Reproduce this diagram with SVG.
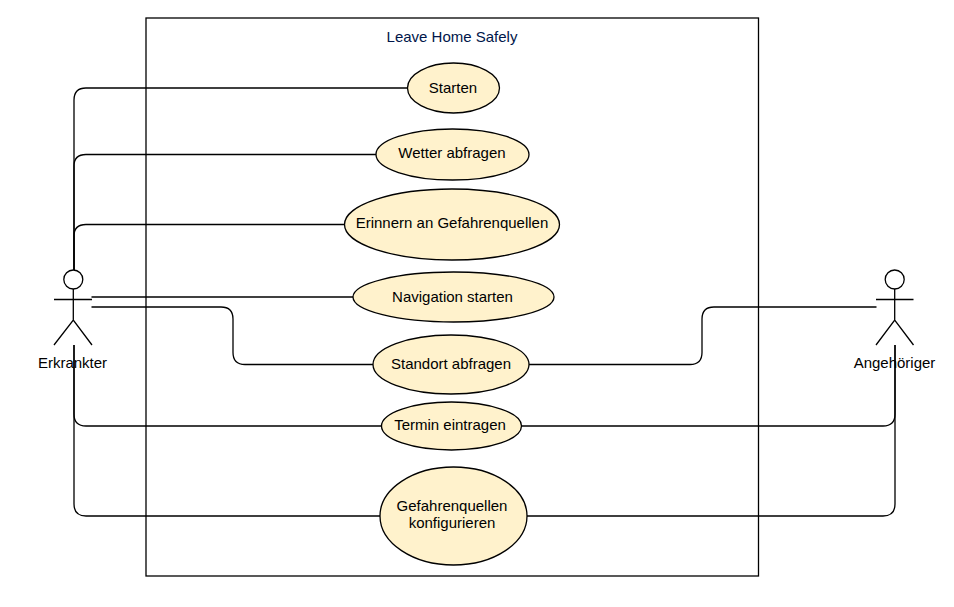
<svg xmlns="http://www.w3.org/2000/svg" width="954" height="607" viewBox="0 0 954 607">
<style>
.l{fill:none;stroke:#000;stroke-width:1.3}
.u{fill:#fff2cc;stroke:#000;stroke-width:1.3}
text{font-family:"Liberation Sans",Arial,sans-serif;font-size:15px;text-anchor:middle;fill:#000}
</style>
<rect width="954" height="607" fill="#fff"/>
<g id="system"><rect x="146" y="18" width="612.500" height="558" fill="#fff" stroke="#000" stroke-width="1.3"/><text x="452" y="42" style="fill:#00164a">Leave Home Safely</text></g>
<g id="connectors">
<path class="l" d="M74 270V100Q74 88 86 88H408"/>
<path class="l" d="M74 270V166Q74 154.500 86 154.500H376"/>
<path class="l" d="M74 270V236Q74 224.500 86 224.500H345"/>
<path class="l" d="M91.500 297H353"/>
<path class="l" d="M91.500 307H221Q233 307 233 319V352.500Q233 364.500 245 364.500H373"/>
<path class="l" d="M74 345V414Q74 426 86 426H382"/>
<path class="l" d="M74 345V504Q74 516 86 516H380"/>
<path class="l" d="M529 364.500H690Q702 364.500 702 352.500V319Q702 307 714 307H876.500"/>
<path class="l" d="M521 426H883Q895 426 895 414V345"/>
<path class="l" d="M527 516H883Q895 516 895 504V345"/>
</g>
<g id="uc1"><ellipse class="u" cx="453.500" cy="88" rx="46" ry="25"/><text x="453" y="93">Starten</text></g>
<g id="uc2"><ellipse class="u" cx="452.500" cy="154.500" rx="76.500" ry="25.500"/><text x="452" y="158">Wetter abfragen</text></g>
<g id="uc3"><ellipse class="u" cx="452" cy="224.500" rx="107.500" ry="35.500"/><text x="452" y="228">Erinnern an Gefahrenquellen</text></g>
<g id="uc4"><ellipse class="u" cx="453.500" cy="297" rx="100.500" ry="25"/><text x="452.500" y="302">Navigation starten</text></g>
<g id="uc5"><ellipse class="u" cx="451" cy="364.500" rx="78" ry="29.500"/><text x="451" y="369">Standort abfragen</text></g>
<g id="uc6"><ellipse class="u" cx="451.500" cy="426" rx="70" ry="24"/><text x="450" y="430">Termin eintragen</text></g>
<g id="uc7"><ellipse class="u" cx="453.500" cy="516" rx="73.500" ry="49"/><text x="452" y="511">Gefahrenquellen</text><text x="452" y="528">konfigurieren</text></g>
<g id="erkrankter"><circle cx="73.300" cy="279.500" r="9.500" fill="#fff" stroke="#000" stroke-width="1.300"/><path class="l" d="M73.300 289V320M54 299.500H92M54 345L73.300 320L92 345"/><text x="72.500" y="368">Erkrankter</text></g>
<g id="angehoeriger"><circle cx="894.700" cy="279.500" r="9.500" fill="#fff" stroke="#000" stroke-width="1.300"/><path class="l" d="M894.700 289V320M876 299.500H913.500M876 345L894.700 320L913.500 345"/><text x="894.500" y="368">Angehöriger</text></g>
</svg>
